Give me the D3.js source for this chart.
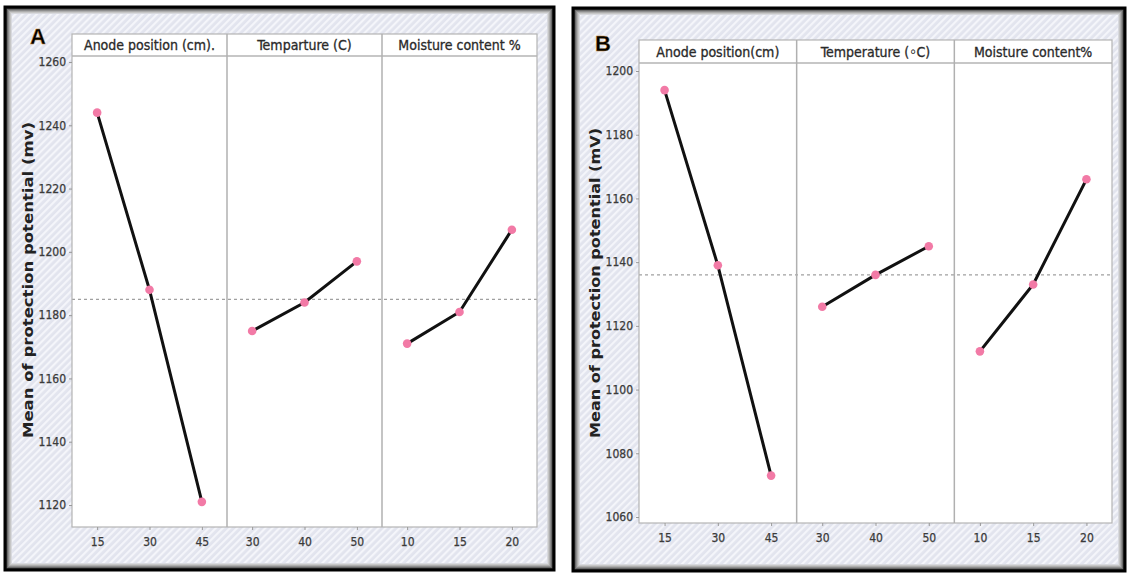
<!DOCTYPE html>
<html><head><meta charset="utf-8">
<script src="https://cdn.jsdelivr.net/npm/d3@7"></script>
<style>
body{margin:0;background:#fff;}
svg{display:block;}
</style></head>
<body>
<svg id="chart" width="1128" height="574"></svg>
<script>
// ---- Data ----
const panelLabels = ["A", "B"];
const factorsA = ["Anode position (cm).", "Temparture (C)", "Moisture content %"];
const factorsB = ["Anode position(cm)", "Temperature (\u25E6C)", "Moisture content%"];
const levelsA = [["15","30","45"],["30","40","50"],["10","15","20"]];
const levelsB = [["15","30","45"],["30","40","50"],["10","15","20"]];
const meansA = [[1244,1188,1121],[1175,1184,1197],[1171,1181,1207]];
const meansB = [[1194,1139,1073],[1126,1136,1145],[1112,1133,1166]];
const grandMeanA = 1185;
const grandMeanB = 1136;
const yTicksA = [1120,1140,1160,1180,1200,1220,1240,1260];
const yTicksB = [1060,1080,1100,1120,1140,1160,1180,1200];
const yTitleA = "Mean of protection  potential (mv)";
const yTitleB = "Mean of protection potential (mV)";

const svg = d3.select("#chart");
const defs = svg.append("defs");
const pat = defs.append("pattern").attr("id","hatch").attr("patternUnits","userSpaceOnUse")
  .attr("width",5).attr("height",5).attr("patternTransform","rotate(45)");
pat.append("rect").attr("width",5).attr("height",5).attr("fill","#e2e4ee");
pat.append("rect").attr("width",2.2).attr("height",5).attr("fill","#f4f5fa");

const tickFont = "'Liberation Sans Narrow','DejaVu Sans Condensed',sans-serif";

function drawPanel(cfg){
  const g = svg.append("g");
  const f = cfg.frame;
  g.append("rect").attr("x",f.x).attr("y",f.y).attr("width",f.w).attr("height",f.h).attr("fill","url(#hatch)");
  const shades = ["#3a3a3a","#6a6a6a","#8e8e8e","#adadad","#c6c6c6","#d8d9de"];
  shades.forEach((c,i)=>{
    g.append("rect").attr("x",f.x+2.5+i).attr("y",f.y+2.5+i)
      .attr("width",f.w-5-2*i).attr("height",f.h-5-2*i)
      .attr("fill","none").attr("stroke",c).attr("stroke-width",1);
  });
  g.append("rect").attr("x",f.x+1).attr("y",f.y+1).attr("width",f.w-2).attr("height",f.h-2)
    .attr("fill","none").attr("stroke","#000").attr("stroke-width",3);

  const p = cfg.plot;
  const y = d3.scaleLinear().domain(cfg.yDom).range(cfg.yRange);
  const nF = cfg.factors.length;
  const pw = (p.x1 - p.x0)/nF;
  g.append("rect").attr("x",p.x0).attr("y",p.hy).attr("width",p.x1-p.x0).attr("height",p.y1-p.hy).attr("fill","#fff");
  g.append("line").attr("x1",p.x0).attr("x2",p.x1).attr("y1",y(cfg.grand)).attr("y2",y(cfg.grand))
    .attr("stroke","#a0a0a0").attr("stroke-width",1.3).attr("stroke-dasharray","3,3");
  g.append("rect").attr("x",p.x0).attr("y",p.hy).attr("width",p.x1-p.x0).attr("height",p.y1-p.hy)
    .attr("fill","none").attr("stroke","#b4b4b4").attr("stroke-width",1.2);
  g.append("line").attr("x1",p.x0).attr("x2",p.x1).attr("y1",p.y0).attr("y2",p.y0).attr("stroke","#b4b4b4").attr("stroke-width",1.5);
  for(let i=1;i<nF;i++){
    g.append("line").attr("x1",p.x0+i*pw).attr("x2",p.x0+i*pw).attr("y1",p.hy).attr("y2",p.y1)
      .attr("stroke","#b0b0b0").attr("stroke-width",1.5);
  }
  const yAxis = d3.axisLeft(y).tickValues(cfg.yTicks).tickFormat(d3.format("d")).tickSize(3).tickPadding(3);
  const ya = g.append("g").attr("transform",`translate(${p.x0},0)`).call(yAxis);
  ya.select(".domain").remove();
  ya.selectAll("line").attr("stroke","#999");
  ya.selectAll("text").attr("font-family",tickFont)
    .attr("font-size",12).attr("fill","#3a3a3a").attr("stroke","#3a3a3a").attr("stroke-width",0.25);

  cfg.factors.forEach((fac,i)=>{
    const x = d3.scalePoint().domain(cfg.levels[i]).range([p.x0+i*pw, p.x0+(i+1)*pw]).padding(0.48);
    g.append("text").attr("x",p.x0+i*pw+pw/2).attr("y",(p.hy+p.y0)/2+5)
      .attr("text-anchor","middle").attr("font-family",tickFont)
      .attr("font-size",14).attr("fill","#2a2a2a").attr("stroke","#2a2a2a").attr("stroke-width",0.3).text(fac);
    const xa = g.append("g").attr("transform",`translate(0,${p.y1})`)
      .call(d3.axisBottom(x).tickSize(3).tickPadding(7));
    xa.select(".domain").remove();
    xa.selectAll("line").attr("stroke","#999");
    xa.selectAll("text").attr("font-family",tickFont)
      .attr("font-size",12).attr("fill","#3a3a3a").attr("stroke","#3a3a3a").attr("stroke-width",0.25);
    const pts = cfg.levels[i].map((l,j)=>[x(l), y(cfg.means[i][j])]);
    g.append("path").attr("d",d3.line()(pts)).attr("fill","none").attr("stroke","#111").attr("stroke-width",3);
    g.selectAll(null).data(pts).enter().append("circle").attr("cx",d=>d[0]).attr("cy",d=>d[1]).attr("r",4.3)
      .attr("fill","#f27aa6");
  });
  g.append("text").attr("transform",`translate(${cfg.yTitlePos[0]},${cfg.yTitlePos[1]}) rotate(-90)`)
    .attr("text-anchor","middle").attr("font-family","'DejaVu Sans',sans-serif").attr("font-weight","bold")
    .attr("font-size",13.5).attr("fill","#222").attr("textLength",cfg.yTitleLen).attr("lengthAdjust","spacingAndGlyphs")
    .text(cfg.yTitle);
  g.append("text").attr("x",cfg.letterPos[0]).attr("y",cfg.letterPos[1]).attr("font-family","'Liberation Sans',Arial,sans-serif")
    .attr("font-weight","bold").attr("font-size",22).attr("fill","#000")
    .attr("stroke","#c98a2a").attr("stroke-width",0.4).text(cfg.letter);
}

drawPanel({
  letter: panelLabels[0], letterPos:[30,44],
  frame:{x:4,y:6,w:551,h:565},
  plot:{x0:72,x1:537,hy:34,y0:56,y1:527},
  yDom:[1120,1260], yRange:[505,62],
  factors:factorsA, levels:levelsA, means:meansA, grand:grandMeanA, yTicks:yTicksA,
  yTitle:yTitleA, yTitlePos:[33,280], yTitleLen:316
});
drawPanel({
  letter: panelLabels[1], letterPos:[595,51],
  frame:{x:572,y:7,w:554,h:565},
  plot:{x0:639,x1:1112,hy:40,y0:63,y1:523},
  yDom:[1060,1200], yRange:[517,71],
  factors:factorsB, levels:levelsB, means:meansB, grand:grandMeanB, yTicks:yTicksB,
  yTitle:yTitleB, yTitlePos:[600,283], yTitleLen:310
});
</script>
</body></html>
